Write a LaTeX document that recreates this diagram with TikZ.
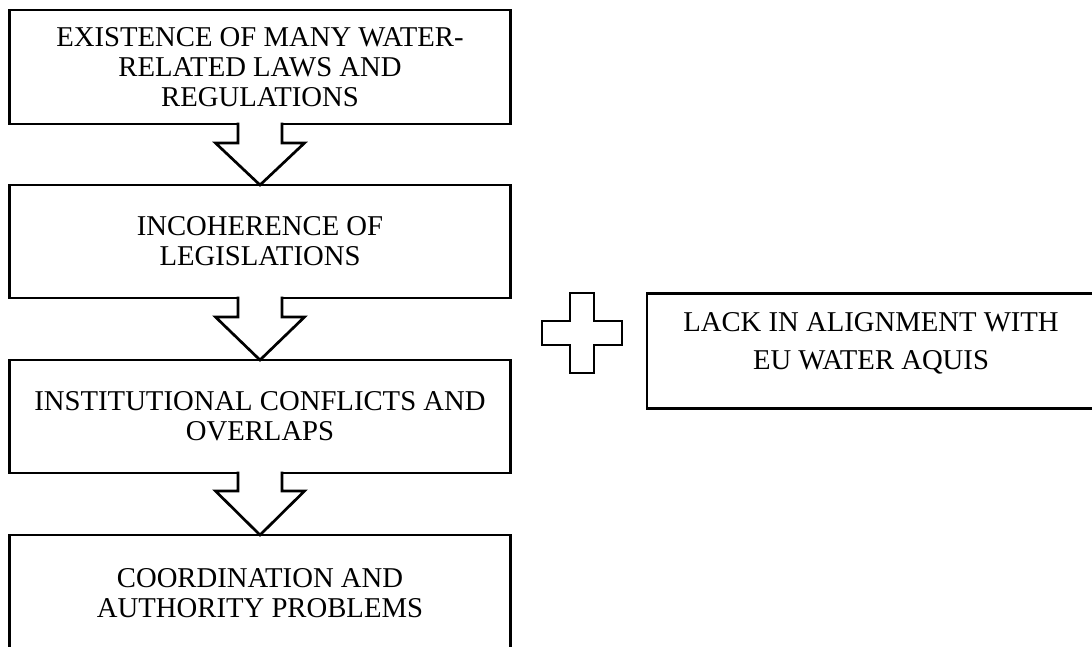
\documentclass[tikz,border=0pt]{standalone}
\usepackage{fontspec}
\setmainfont{Liberation Serif}
\usetikzlibrary{calc}

% block arrow pointing down from the bottom of one box to the top of the next
\newcommand{\flowarrow}[3]{%
  \draw[blockarrow]
    ($(#1.south)+(-22,-1.3)$) -- ($(#1.south)+(-22,#3)$)
    -- ($(#1.south)+(-44.5,#3)$) -- (#2.north)
    -- ($(#1.south)+(44.5,#3)$) -- ($(#1.south)+(22,#3)$)
    -- ($(#1.south)+(22,-1.3)$);
}

\begin{document}
\begin{tikzpicture}[x=1pt,y=-1pt,
  txt/.style={align=center, inner sep=0pt,
    font=\fontsize{28.7}{30}\selectfont},
  box/.style={txt, draw, line width=2.7pt, fill=white, outer sep=0pt,
    minimum width=501pt, minimum height=114pt},
  sidebox/.style={draw, line width=2.7pt, fill=white, outer sep=0pt,
    minimum width=448pt, minimum height=115pt},
  blockarrow/.style={draw, line width=2.7pt, fill=white, line join=miter}]

\useasboundingbox (0,0) rectangle (1092,646);
\clip (0,0) rectangle (1092,646);

% main chain of boxes
\node[box] (b1) at (260,67)    {EXISTENCE OF MANY WATER-\\RELATED LAWS AND\\REGULATIONS};
\node[box, minimum height=113pt] (b2) at (260,241.5) {INCOHERENCE OF\\LEGISLATIONS};
\node[box, minimum height=113pt] (b3) at (260,416.5) {INSTITUTIONAL CONFLICTS AND\\OVERLAPS};
\node[box, minimum height=116pt] (b4) at (260,593)   {COORDINATION AND\\AUTHORITY PROBLEMS};

% arrows between the boxes
\flowarrow{b1}{b2}{19}
\flowarrow{b2}{b3}{19}
\flowarrow{b3}{b4}{18}

% side box with its text
\node[sidebox] (side) at (871,351) {};
\node[txt, font=\fontsize{28.7}{38}\selectfont] (sidetxt) at (871,343.5)
  {LACK IN ALIGNMENT WITH\\EU WATER AQUIS};

% plus sign
\coordinate (plusc) at (582,333);
\draw[blockarrow] (plusc)
  +(-12,-40) -- +(12,-40) -- +(12,-12) -- +(40,-12) -- +(40,12) -- +(12,12)
  -- +(12,40) -- +(-12,40) -- +(-12,12) -- +(-40,12) -- +(-40,-12) -- +(-12,-12)
  -- cycle;

\end{tikzpicture}
\end{document}
